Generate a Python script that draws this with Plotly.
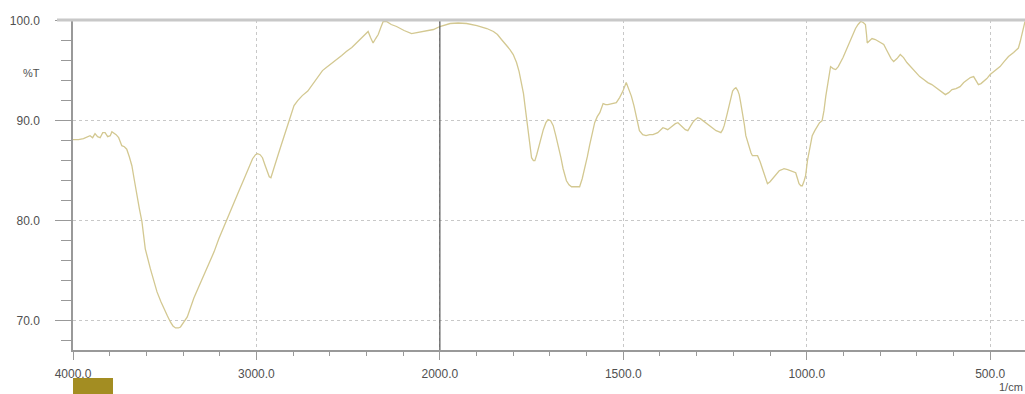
import plotly.graph_objects as go

# FTIR spectrum: wavenumber (1/cm) and transmittance (%T)
wavenumber = [
    4000, 3970, 3943, 3920, 3907, 3893, 3880, 3866, 3852, 3838, 3825, 3811, 3797, 3788, 3779, 3765,
    3751, 3742, 3734, 3720, 3707, 3693, 3679, 3665, 3652, 3638, 3624, 3606, 3578, 3560, 3542, 3520,
    3505, 3485, 3469, 3455, 3441, 3425, 3414, 3395, 3377, 3360, 3341, 3315, 3286, 3260, 3231, 3205,
    3176, 3150, 3122, 3095, 3067, 3045, 3021, 3005, 2994, 2980, 2967, 2952, 2939, 2930, 2921, 2908,
    2894, 2880, 2866, 2852, 2839, 2825, 2811, 2795, 2775, 2750, 2720, 2698, 2675, 2656, 2640, 2619,
    2590, 2564, 2535, 2510, 2480, 2455, 2430, 2409, 2391, 2378, 2364, 2350, 2336, 2322, 2309, 2291,
    2265, 2236, 2195, 2154, 2120, 2090, 2060, 2035, 2000,
    1972, 1950, 1927, 1899, 1872, 1854, 1843, 1832, 1820, 1809, 1800, 1791, 1784, 1777, 1772, 1768,
    1763, 1759, 1754, 1750, 1745, 1741, 1736, 1732, 1725, 1718, 1711, 1705, 1698, 1691, 1684, 1677,
    1670, 1664, 1655, 1648, 1641, 1630, 1619, 1612, 1605, 1598, 1592, 1585, 1578, 1571, 1564, 1555,
    1548, 1542, 1530, 1519, 1510, 1501, 1492, 1485, 1478, 1471, 1465, 1460, 1456, 1447, 1438, 1428,
    1419, 1406, 1399, 1392, 1385, 1379, 1372, 1365, 1358, 1351, 1345, 1338, 1331, 1324, 1318, 1311,
    1304, 1297, 1290, 1283, 1274, 1265, 1256, 1247, 1240, 1234, 1229, 1225, 1218, 1211, 1206, 1202,
    1197, 1193, 1188, 1184, 1180, 1175, 1170, 1166, 1161, 1157, 1152, 1148, 1140, 1134, 1127, 1120,
    1113, 1107, 1100, 1093, 1084, 1075, 1068, 1062, 1052, 1043, 1036, 1030, 1025, 1021, 1016, 1012,
    1007, 1003, 998, 989, 985, 978, 971, 965, 958, 953, 948, 942, 935, 928, 921, 914,
    908, 901, 894, 887, 880, 874, 867, 860, 853, 846, 840, 837, 835, 828, 822, 813,
    804, 797, 790, 783, 776, 770, 763, 754, 745, 736, 727, 715, 704, 692, 681, 670,
    659, 647, 636, 629, 622, 613, 604, 593, 582, 572, 563, 554, 545, 538, 532, 525,
    518, 509, 500, 487, 473, 462, 450, 436, 423, 418, 414, 409, 405,
]
transmittance = [
    88.1, 88.1, 88.2, 88.4, 88.5, 88.3, 88.7, 88.4, 88.3, 88.8, 88.8, 88.4, 88.5, 88.9, 88.8, 88.6,
    88.3, 87.8, 87.5, 87.4, 87.15, 86.4, 85.5, 84.0, 82.5, 81.2, 79.9, 77.2, 75.2, 74.0, 72.9, 71.9,
    71.25, 70.5, 69.9, 69.5, 69.3, 69.3, 69.4, 69.9, 70.4, 71.3, 72.3, 73.4, 74.6, 75.8, 76.9, 78.2,
    79.5, 80.7, 81.85, 83.0, 84.2, 85.1, 86.2, 86.6, 86.7, 86.6, 86.3, 85.5, 84.7, 84.4, 84.3, 85.0,
    85.8, 86.7, 87.5, 88.3, 89.1, 90.0, 90.8, 91.5, 92.0, 92.5, 92.95, 93.5, 94.1, 94.5, 95.0, 95.3,
    95.7, 96.1, 96.5, 96.9, 97.3, 97.75, 98.2, 98.6, 98.9, 98.3, 97.75, 98.2, 98.6, 99.3, 99.9, 99.9,
    99.6, 99.4, 99.0, 98.7, 98.8, 98.9, 99.0, 99.1, 99.4,
    99.7, 99.75, 99.7, 99.5, 99.2, 98.9, 98.6, 98.1, 97.6, 97.1, 96.6, 95.8, 94.9, 93.8, 92.7, 91.5,
    90.0, 88.5, 87.3, 86.3, 86.0, 86.0, 86.6, 87.2, 88.2, 89.1, 89.8, 90.1, 90.0, 89.5, 88.5, 87.5,
    86.3, 85.2, 84.0, 83.6, 83.4, 83.4, 83.4, 84.2, 85.2, 86.4, 87.5, 88.6, 89.8, 90.4, 90.8, 91.7,
    91.6, 91.6, 91.7, 91.8, 92.3, 92.95, 93.8, 93.2, 92.45, 91.5, 90.5, 89.7, 89.0, 88.6, 88.5, 88.6,
    88.6, 88.8, 89.1, 89.3, 89.2, 89.1, 89.3, 89.5, 89.7, 89.8, 89.6, 89.3, 89.1, 89.0, 89.4, 89.8,
    90.1, 90.3, 90.2, 90.0, 89.8, 89.5, 89.2, 89.0, 88.9, 88.8, 89.1, 89.5, 90.5, 91.5, 92.3, 92.95,
    93.2, 93.3, 93.0, 92.6, 91.8, 90.8, 89.6, 88.5, 87.8, 87.3, 86.8, 86.5, 86.5, 86.5, 85.9, 85.2,
    84.4, 83.7, 83.9, 84.2, 84.6, 85.0, 85.1, 85.2, 85.1, 85.0, 84.9, 84.8, 84.2, 83.7, 83.5, 83.5,
    84.0, 84.5, 86.0, 87.6, 88.5, 89.0, 89.5, 89.8, 90.0, 91.0, 92.45, 94.0, 95.4, 95.2, 95.1, 95.4,
    95.8, 96.3, 96.9, 97.5, 98.1, 98.7, 99.2, 99.6, 99.9, 99.8, 99.6, 98.6, 97.75, 98.0, 98.2, 98.1,
    97.9, 97.8, 97.6, 97.1, 96.6, 96.2, 95.9, 96.2, 96.6, 96.3, 95.8, 95.3, 94.8, 94.4, 94.1, 93.8,
    93.6, 93.3, 92.95, 92.8, 92.6, 92.8, 93.1, 93.2, 93.4, 93.8, 94.1, 94.3, 94.4, 94.0, 93.6, 93.7,
    93.9, 94.2, 94.6, 95.0, 95.4, 95.9, 96.4, 96.8, 97.25, 97.9, 98.6, 99.3, 99.9,
]

x_tick_values = [4000, 3000, 2000, 1500, 1000, 500]
x_tick_labels = ["4000.0", "3000.0", "2000.0", "1500.0", "1000.0", "500.0"]
y_tick_values = [70, 80, 90, 100]
y_tick_labels = ["70.0", "80.0", "90.0", "100.0"]


def to_pos(wn):
    # FTIR scale change at 2000 1/cm: region above 2000 is compressed 2x
    return (4000 - wn) / 2.0 if wn >= 2000 else 1000 + (2000 - wn)


xpos = [to_pos(w) for w in wavenumber]
W, H = 1025, 394
L, R, T, B = 73, 0, 20, 44
pw = W - L - R
ph = H - T - B
grey = "#505050"
font = dict(family="Liberation Sans, Arial, sans-serif", size=12, color=grey)

fig = go.Figure()
fig.add_trace(go.Scatter(x=xpos, y=transmittance, mode="lines",
                         line=dict(color="#d3c891", width=1.3), hoverinfo="skip"))

fig.update_layout(
    width=W, height=H, margin=dict(l=L, r=R, t=T, b=B, autoexpand=False),
    paper_bgcolor="white", plot_bgcolor="white", showlegend=False, font=font,
    xaxis=dict(
        range=[0, to_pos(405)], tickmode="array", automargin=False,
        tickvals=[to_pos(v) for v in x_tick_values], ticktext=x_tick_labels,
        ticks="outside", ticklen=8, tickcolor="#999999", tickwidth=1,
        showline=True, linecolor="#999999", linewidth=1.5,
        showgrid=True, gridcolor="#c8c8c8", griddash="dot", gridwidth=1,
        zeroline=False, ticklabelstandoff=4, tickfont=font,
        minor=dict(tickmode="linear", tick0=0, dtick=100, ticks="outside",
                   ticklen=4, tickcolor="#999999", showgrid=False),
    ),
    yaxis=dict(
        range=[67.1, 100.05], tickmode="array", automargin=False,
        tickvals=y_tick_values, ticktext=y_tick_labels,
        ticks="outside", ticklen=16, tickcolor="#999999", tickwidth=1,
        showline=True, linecolor="#999999", linewidth=1.5,
        showgrid=True, gridcolor="#c8c8c8", griddash="dot", gridwidth=1,
        zeroline=False, ticklabelstandoff=13, tickfont=font,
        minor=dict(tickmode="linear", tick0=0, dtick=2, ticks="outside",
                   ticklen=10, tickcolor="#999999", showgrid=False),
    ),
)

# solid scale-change line at 2000 1/cm
fig.add_shape(type="line", xref="x", yref="paper", x0=to_pos(2000), x1=to_pos(2000),
              y0=0, y1=1, line=dict(color="#555555", width=1.2))
# top frame line
fig.add_shape(type="line", xref="paper", yref="paper", x0=-16 / pw, x1=1, y0=1, y1=1,
              line=dict(color="#c8c8c8", width=3))
# olive marker box under the axis
fig.add_shape(type="rect", xref="paper", yref="paper", x0=0, x1=40 / pw,
              y0=-(394 - 350) / ph, y1=-(378 - 350) / ph,
              line=dict(width=0), fillcolor="#a38d22")

fig.add_annotation(text="%T", xref="paper", yref="y", x=0, y=94.8, xshift=-31,
                   xanchor="right", yanchor="middle", showarrow=False, font=dict(font, size=11))
fig.add_annotation(text="1/cm", xref="paper", yref="paper", x=1, y=-(387 - 350) / ph,
                   xanchor="right", yanchor="middle", showarrow=False, font=dict(font, size=11))

fig.write_html(
    "out.html",
    config={"displayModeBar": False},
    post_script="document.body.style.margin='0';document.body.style.overflow='hidden';",
)
